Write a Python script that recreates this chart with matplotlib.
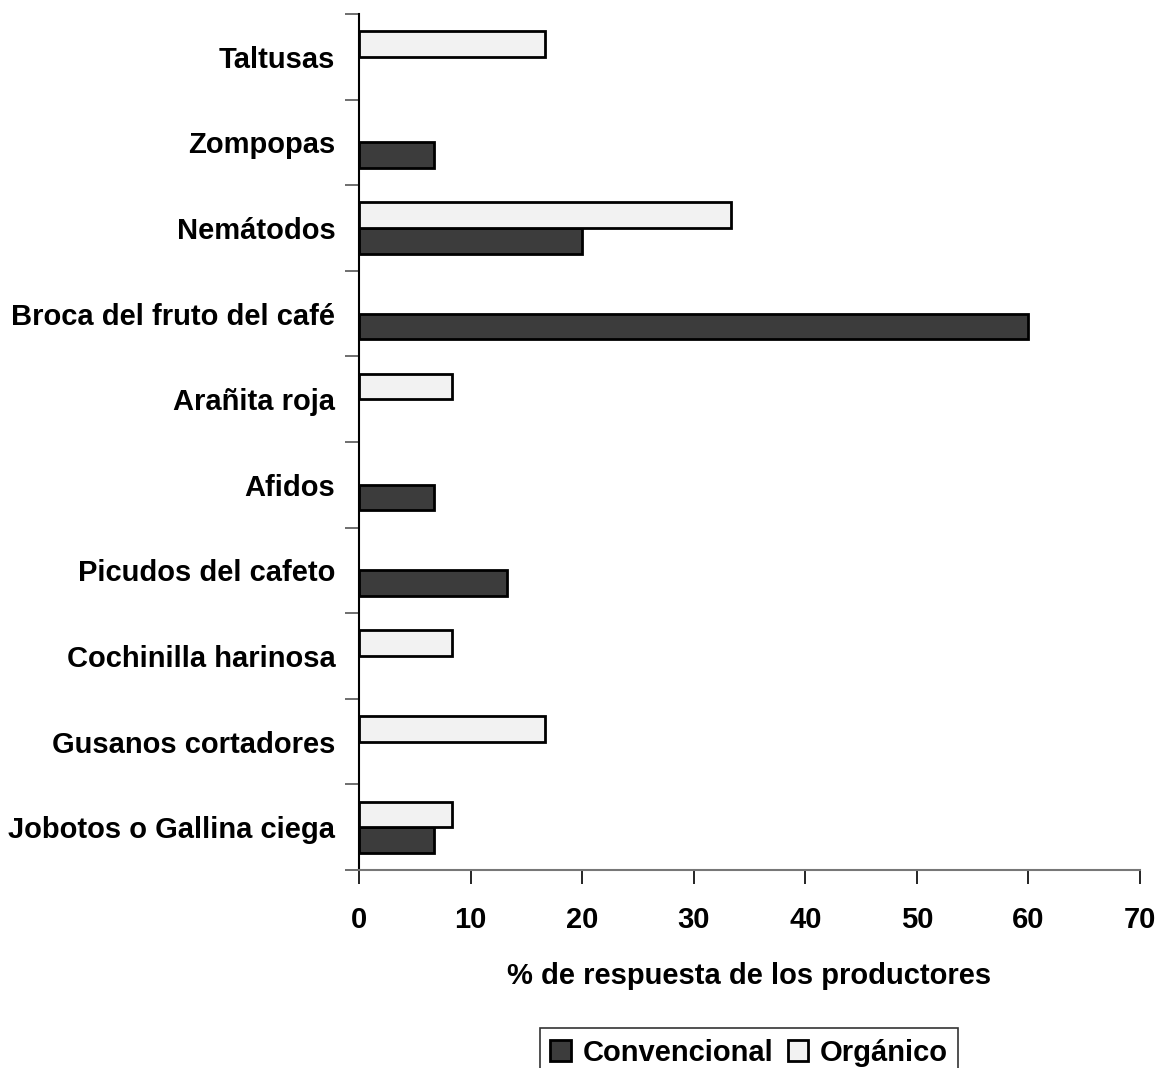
import numpy as np
import matplotlib
matplotlib.use('Agg')
import matplotlib.pyplot as plt

plt.rcParams['font.family'] = ['Liberation Sans', 'DejaVu Sans']
plt.rcParams['font.weight'] = 'bold'

categories = ['Jobotos o Gallina ciega', 'Gusanos cortadores', 'Cochinilla harinosa',
              'Picudos del cafeto', 'Afidos', 'Arañita roja', 'Broca del fruto del café',
              'Nemátodos', 'Zompopas', 'Taltusas']
convencional = [6.7, 0, 0, 13.3, 6.7, 0, 60, 20, 6.7, 0]
organico = [8.3, 16.7, 8.3, 0, 0, 8.3, 0, 33.3, 0, 16.7]
xticks = [0, 10, 20, 30, 40, 50, 60, 70]

fig = plt.figure(figsize=(11.63, 10.68), dpi=100)
ax = fig.add_axes([0.3087, 0.1854, 0.6715, 0.8015])

y = np.arange(len(categories))
h = 0.3
# zero values get no bar (otherwise the edge draws a line at x=0)
conv = np.array(convencional, dtype=float)
org = np.array(organico, dtype=float)
mc = conv > 0
mo = org > 0
ax.barh(y[mc] - h / 2, conv[mc], h, color='#3c3c3c', edgecolor='black', linewidth=2,
        label='Convencional')
ax.barh(y[mo] + h / 2, org[mo], h, color='#f2f2f2', edgecolor='black', linewidth=2,
        label='Orgánico')

ax.set_xlim(0, 70)
ax.set_ylim(-0.5, len(categories) - 0.5)
ax.set_xticks(xticks)
ax.set_xticklabels([str(t) for t in xticks], fontsize=21, fontweight='bold')
ax.set_yticks(y)
ax.set_yticklabels(categories, fontsize=21, fontweight='bold')
ax.set_yticks(np.arange(len(categories) + 1) - 0.5, minor=True)
ax.tick_params(axis='y', which='major', length=0, pad=17)
ax.tick_params(axis='y', which='minor', length=10, width=1.2, color='#555555')
ax.tick_params(axis='x', length=10, width=1.2, pad=16)

for s in ['top', 'right']:
    ax.spines[s].set_visible(False)
ax.spines['left'].set_linewidth(1.5)
ax.spines['bottom'].set_color('#777777')
ax.spines['bottom'].set_linewidth(1.5)

ax.set_xlabel('% de respuesta de los productores', fontsize=21, fontweight='bold',
              labelpad=20)

leg = fig.legend(loc='lower center', bbox_to_anchor=(0.644, -0.022), ncol=2,
                 fontsize=21, frameon=True, fancybox=False, edgecolor='black',
                 handlelength=0.7, handleheight=0.7, handletextpad=0.4,
                 columnspacing=0.5, borderpad=0.35)
leg.get_frame().set_linewidth(1.2)
for t in leg.get_texts():
    t.set_fontweight('bold')

fig.savefig('out.png', dpi=100)
